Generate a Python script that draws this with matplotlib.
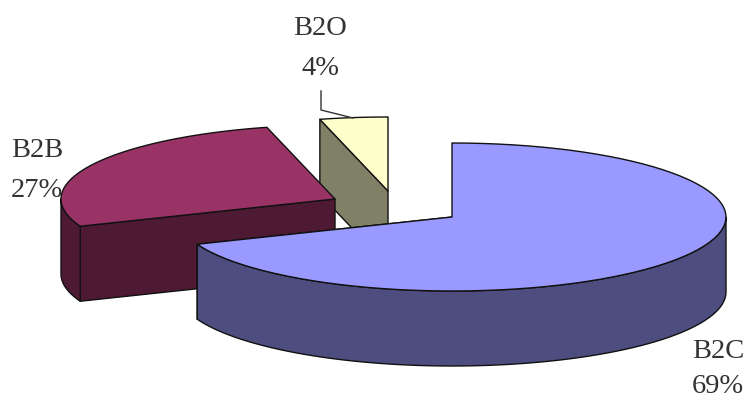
import numpy as np
import matplotlib
matplotlib.use('Agg')
import matplotlib.pyplot as plt
from matplotlib.patches import Polygon

categories = ['B2C', 'B2B', 'B2O']
shares = [69, 27, 4]
top_colors = ['#9999ff', '#993366', '#ffffcc']
side_colors = ['#4d4d80', '#4d1933', '#808066']

# exploded centres of each slice, in pixels
centers = {'B2C': (452, 217), 'B2B': (335, 199), 'B2O': (388, 191)}
RX, RY = 274, 74
DEPTH = 75


def rim(c, a0, a1, n=80):
    t = np.radians(np.linspace(a0, a1, n))
    return np.column_stack([c[0] + RX * np.cos(t), c[1] - RY * np.sin(t)])


def draw_slice(ax, name, start, end, top, side, z):
    c = centers[name]
    down = np.array([0, DEPTH])
    line = dict(edgecolor='#111111', linewidth=1.0, joinstyle='round')

    # cut faces first, only those facing the viewer
    p_start = rim(c, start, start, 1)[0]
    p_end = rim(c, end, end, 1)[0]
    faces = [p_start] if name == 'B2O' else [p for p in (p_start, p_end) if p[1] > c[1]]
    for p in faces:
        quad = [c, p, p + down, np.array(c) + down]
        ax.add_patch(Polygon(quad, closed=True, facecolor=side, zorder=z, **line))

    # outer wall, lower half of the rim only
    lo, hi = min(start, end), max(start, end)
    for k in range(-1, 2):
        a0 = max(lo, 180 + 360 * k)
        a1 = min(hi, 360 + 360 * k)
        if a1 > a0:
            r = rim(c, a0, a1)
            ax.add_patch(Polygon(np.vstack([r, (r + down)[::-1]]), closed=True,
                                 facecolor=side, zorder=z, **line))

    # top of the slice
    r = rim(c, start, end)
    ax.add_patch(Polygon(np.vstack([[c], r]), closed=True, facecolor=top, zorder=z + 0.5, **line))


fig = plt.figure(figsize=(7.47, 4), dpi=100)
ax = fig.add_axes([0, 0, 1, 1])
ax.set_xlim(0, 747)
ax.set_ylim(400, 0)
ax.axis('off')

order = {'B2O': 1, 'B2B': 2, 'B2C': 3}
angle = 90.0
for name, val, top, side in zip(categories, shares, top_colors, side_colors):
    sweep = 360 * val / sum(shares)
    draw_slice(ax, name, angle, angle - sweep, top, side, order[name])
    angle -= sweep

# leader line for the small slice
ax.plot([321, 321, 353], [91, 110, 118], color='#333333', lw=1.0, zorder=5)

# x, baseline of name, baseline of percent
label_pos = {'B2C': (692, 358, 393), 'B2B': (11, 157, 197), 'B2O': (320, 35, 75)}
label_ha = {'B2C': 'left', 'B2B': 'left', 'B2O': 'center'}
for name, val in zip(categories, shares):
    x, y1, y2 = label_pos[name]
    ax.text(x, y1, name, family='Liberation Serif', fontsize=20.5, color='#333333',
            ha=label_ha[name], va='baseline', zorder=6)
    ax.text(x, y2, f'{val}%', family='Liberation Serif', fontsize=20.5, color='#333333',
            ha=label_ha[name], va='baseline', zorder=6)

plt.savefig('out.png', dpi=100)
plt.close()
